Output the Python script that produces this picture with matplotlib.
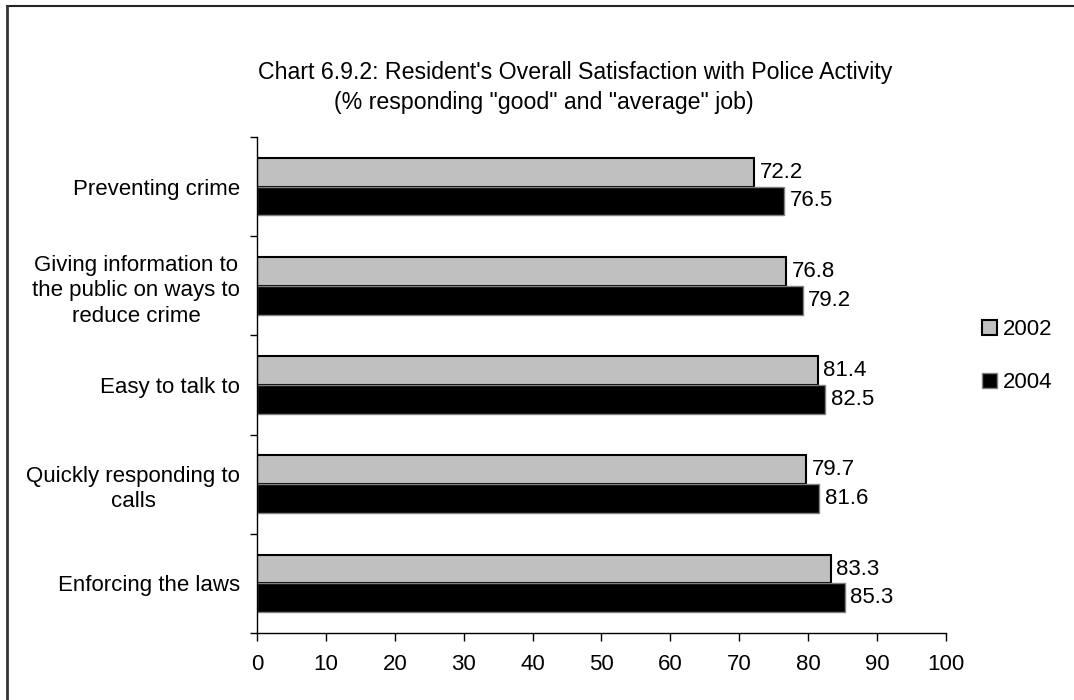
import matplotlib.pyplot as plt
import matplotlib
from matplotlib.lines import Line2D
import numpy as np

matplotlib.rcParams['font.family'] = ['Liberation Sans', 'DejaVu Sans']

categories = ['Preventing crime',
              'Giving information to\nthe public on ways to\nreduce crime',
              'Easy to talk to',
              'Quickly responding to\ncalls',
              'Enforcing the laws']
values_2002 = [72.2, 76.8, 81.4, 79.7, 83.3]
values_2004 = [76.5, 79.2, 82.5, 81.6, 85.3]
years = ['2002', '2004']

fig = plt.figure(figsize=(10.74, 7.0), dpi=100)
ax = fig.add_axes([0.2393, 0.0957, 0.6415, 0.7086])

pos = np.arange(len(categories))
h = 0.29
ax.barh(pos - 0.145, values_2002, height=h, color='#c0c0c0', edgecolor='black', linewidth=1.5, label=years[0])
ax.barh(pos + 0.145, values_2004, height=h, color='black', edgecolor='#808080', linewidth=1.0, label=years[1])

for i in range(len(categories)):
    ax.text(values_2002[i] + 0.8, pos[i] - 0.145, f'{values_2002[i]:.1f}', va='center', ha='left', fontsize=16)
    ax.text(values_2004[i] + 0.8, pos[i] + 0.145, f'{values_2004[i]:.1f}', va='center', ha='left', fontsize=16)

ax.set_xlim(0, 100)
ax.set_ylim(len(categories) - 0.5, -0.5)
ax.set_xticks(range(0, 101, 10))
ax.tick_params(axis='x', labelsize=16, length=6, width=1, pad=9, direction='out')

# tick marks between groups, labels at group centres
ax.set_yticks(np.arange(-0.5, len(categories), 1.0))
ax.set_yticklabels([])
ax.tick_params(axis='y', which='major', length=5, width=1, direction='out')
ax.set_yticks(pos, minor=True)
ax.set_yticklabels(categories, minor=True, fontsize=16, ha='right', multialignment='center', linespacing=1.28)
ax.tick_params(axis='y', which='minor', length=0, pad=12)

for s in ['top', 'right']:
    ax.spines[s].set_visible(False)
for s in ['left', 'bottom']:
    ax.spines[s].set_linewidth(1.0)

fig.text(0.5355, 0.897, "Chart 6.9.2: Resident's Overall Satisfaction with Police Activity",
         ha='center', va='center', fontsize=16.7)
fig.text(0.5065, 0.854, '(% responding "good" and "average" job)',
         ha='center', va='center', fontsize=16.7)

fig.legend(loc='center left', bbox_to_anchor=(0.9145, 0.491), frameon=False, fontsize=16,
           handlelength=0.65, handleheight=0.65, handletextpad=0.3, labelspacing=1.45, borderaxespad=0,
           borderpad=0)

# frame around the chart area (top and left edges)
fig.add_artist(Line2D([0.0065, 1.0], [0.9914, 0.9914], transform=fig.transFigure, color='#222222', lw=1.5))
fig.add_artist(Line2D([0.0065, 0.0065], [0.0, 0.9914], transform=fig.transFigure, color='#333333', lw=2))

fig.savefig('out.png', dpi=100)
